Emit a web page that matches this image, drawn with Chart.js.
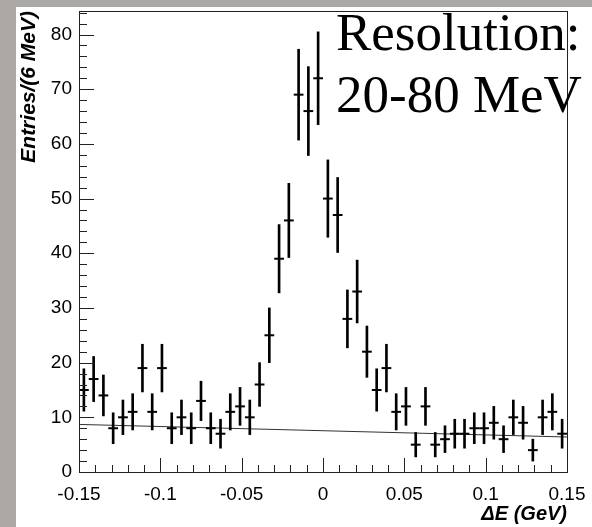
<!DOCTYPE html>
<html>
<head>
<meta charset="utf-8">
<script src="https://cdn.jsdelivr.net/npm/chart.js@4.4.1/dist/chart.umd.min.js"></script>
<style>
    html, body { margin: 0; padding: 0; }
    body { width: 592px; height: 527px; background: #aca8a5; position: relative; overflow: hidden; }
    #panel { position: absolute; left: 16px; top: 7px; right: 0; bottom: 0; background: #fff; }
    #chart { position: absolute; left: 0; top: 0; }
</style>
</head>
<body>
<div id="panel"></div>
<canvas id="chart" width="592" height="527"></canvas>
<script>
// histogram: 50 bins of 6 MeV from -0.15 to 0.15 GeV
const binLow = -0.15;
const binWidth = 0.006;
const counts = [15, 17, 14, 8, 10, 11, 19, 11, 19, 8,
                10, 8, 13, 8, 7, 11, 12, 10, 16, 25,
                39, 46, 69, 66, 72, 50, 47, 28, 33, 22,
                15, 19, 11, 12, 5, 12, 5, 6, 7, 7,
                8, 8, 9, 6, 10, 9, 4, 10, 11, 7];

// background fit line (end points)
const bgX = [-0.15, 0.15];
const bgY = [8.7, 6.4];

// axes
const xTickValues = [-0.15, -0.1, -0.05, 0, 0.05, 0.1, 0.15];
const xTickLabels = ['-0.15', '-0.1', '-0.05', '0', '0.05', '0.1', '0.15'];
const yTickValues = [0, 10, 20, 30, 40, 50, 60, 70, 80];
const yMax = 84.3;
const noteLines = ['Resolution:', '20-80 MeV'];

const centers = counts.map((c, i) => binLow + binWidth * (i + 0.5));

const halfBinPx = chart => {
    const x = chart.scales.x;
    if (!x) return 4.5;
    return Math.abs(x.getPixelForValue(binWidth) - x.getPixelForValue(0)) / 2;
};

// no extra room for overhanging tick labels, so the plot area sits where the layout padding says
const noLabelPadding = s => {
    s.paddingTop = 0; s.paddingBottom = 0; s.paddingLeft = 0; s.paddingRight = 0;
};

// frame, inward ticks and the resolution note
const framePlugin = {
    id: 'frame',
    afterDraw(chart) {
        const { ctx, chartArea: a, scales: { x, y } } = chart;
        ctx.save();
        ctx.strokeStyle = '#222';
        ctx.lineWidth = 1;
        ctx.strokeRect(a.left + 0.5, a.top + 0.5, a.right - a.left, a.bottom - a.top);

        ctx.beginPath();
        for (let v = 0; v <= 84; v += 2) {
            const py = Math.round(y.getPixelForValue(v)) + 0.5;
            const len = v % 10 === 0 ? 15 : 8;
            ctx.moveTo(a.left, py);
            ctx.lineTo(a.left + len, py);
        }
        for (let i = 0; i <= 30; i++) {
            const px = Math.round(x.getPixelForValue(-0.15 + i * 0.01)) + 0.5;
            const len = i % 5 === 0 ? 14 : 7;
            ctx.moveTo(px, a.bottom);
            ctx.lineTo(px, a.bottom - len);
        }
        ctx.stroke();

        ctx.fillStyle = '#000';
        ctx.font = '53px "Liberation Serif", "Times New Roman", serif';
        ctx.textAlign = 'left';
        ctx.textBaseline = 'alphabetic';
        ctx.fillText(noteLines[0], 336, 50);
        ctx.fillText(noteLines[1], 336, 112);
        ctx.restore();
    }
};

const labelFont = { family: '"Liberation Sans", Arial, sans-serif', size: 19 };

new Chart(document.getElementById('chart'), {
    type: 'scatter',
    data: {
        datasets: [
            {
                type: 'line',
                data: bgX.map((v, i) => ({ x: v, y: bgY[i] })),
                borderColor: '#333',
                borderWidth: 1,
                pointRadius: 0,
                order: 3
            },
            {
                type: 'bar',
                data: counts.map((c, i) => ({ x: centers[i], y: [c - Math.sqrt(c), c + Math.sqrt(c)] })),
                backgroundColor: '#000',
                borderWidth: 0,
                barThickness: 2,
                grouped: false,
                order: 2
            },
            {
                type: 'scatter',
                data: counts.map((c, i) => ({ x: centers[i], y: c })),
                pointStyle: 'line',
                pointRadius: ctx => halfBinPx(ctx.chart),
                pointHoverRadius: ctx => halfBinPx(ctx.chart),
                pointBorderWidth: 2,
                pointBorderColor: '#000',
                order: 1
            }
        ]
    },
    options: {
        responsive: false,
        animation: false,
        events: [],
        layout: { padding: { top: 11, right: 25, left: 0, bottom: 0 } },
        plugins: { legend: { display: false }, tooltip: { enabled: false } },
        scales: {
            x: {
                type: 'linear',
                min: -0.15,
                max: 0.15,
                offset: false,
                grid: { display: false, drawTicks: false },
                border: { display: false },
                afterBuildTicks: s => { s.ticks = xTickValues.map(v => ({ value: v })); },
                afterFit: s => { s.height = 55; noLabelPadding(s); },
                ticks: {
                    autoSkip: false,
                    maxRotation: 0,
                    padding: 11,
                    color: '#000',
                    font: labelFont,
                    callback: (v, i) => xTickLabels[i]
                },
                title: {
                    display: true,
                    text: 'ΔE (GeV)',
                    align: 'end',
                    color: '#000',
                    font: { family: '"Liberation Sans", Arial, sans-serif', size: 20, weight: 'bold', style: 'italic' },
                    padding: { top: 0, bottom: 1 }
                }
            },
            y: {
                type: 'linear',
                min: 0,
                max: yMax,
                grid: { display: false, drawTicks: false },
                border: { display: false },
                afterBuildTicks: s => { s.ticks = yTickValues.map(v => ({ value: v })); },
                afterFit: s => { s.width = 79; noLabelPadding(s); },
                ticks: {
                    padding: 7,
                    color: '#000',
                    font: labelFont
                },
                title: {
                    display: true,
                    text: 'Entries/(6 MeV)',
                    align: 'end',
                    color: '#000',
                    font: { family: '"Liberation Sans", Arial, sans-serif', size: 21, weight: 'bold', style: 'italic' },
                    padding: { top: 17, bottom: 0 }
                }
            }
        }
    },
    plugins: [framePlugin]
});
</script>
</body>
</html>
